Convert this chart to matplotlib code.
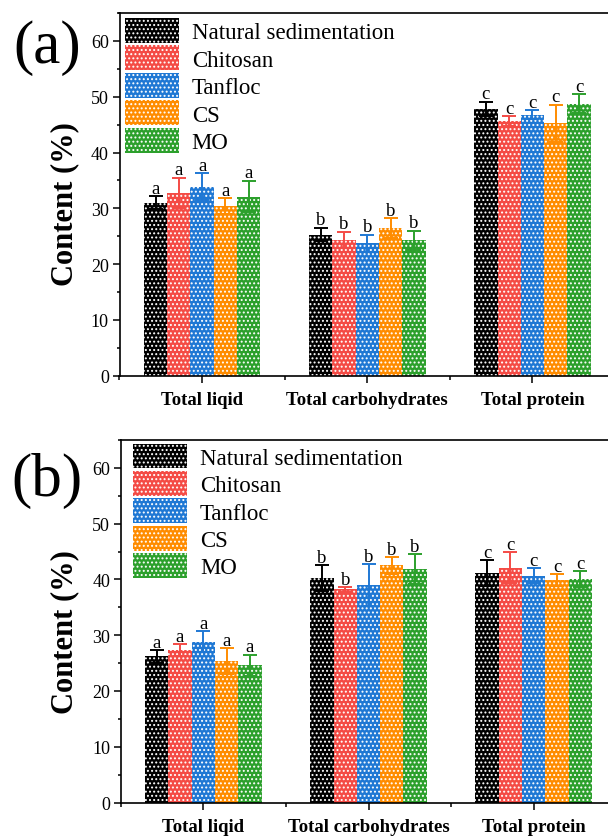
import numpy as np
import matplotlib
matplotlib.use("Agg")
import matplotlib.pyplot as plt
from matplotlib.ticker import MultipleLocator, FixedLocator

plt.rcParams['font.family'] = ['Liberation Serif', 'DejaVu Serif']
plt.rcParams['hatch.linewidth'] = 0.9

# data
categories = ['Total liqid', 'Total carbohydrates', 'Total protein']
series = ['Natural sedimentation', 'Chitosan', 'Tanfloc', 'CS', 'MO']
colors = ['#000000', '#F44B45', '#1F78D4', '#FF8C00', '#2CA02C']
letters = ['a', 'b', 'c']

# panel (a): rows = series, cols = categories
vals_a = [[31.0, 25.3, 47.8],
          [32.8, 24.3, 45.6],
          [33.9, 23.7, 46.8],
          [30.4, 26.4, 45.2],
          [32.1, 24.3, 48.7]]
errs_a = [[1.2, 1.2, 1.3],
          [2.7, 1.5, 0.9],
          [2.4, 1.6, 0.8],
          [1.4, 1.8, 3.4],
          [2.8, 1.7, 1.7]]

# panel (b)
vals_b = [[26.2, 40.2, 41.1],
          [27.3, 38.2, 42.1],
          [28.8, 39.0, 40.7],
          [25.4, 42.5, 39.9],
          [24.6, 41.8, 40.1]]
errs_b = [[1.1, 2.3, 2.3],
          [1.1, 0.4, 2.8],
          [1.9, 3.7, 1.3],
          [2.3, 1.5, 1.0],
          [1.9, 2.7, 1.4]]

W, H = 608, 837
fig = plt.figure(figsize=(W / 100, H / 100), dpi=100)

bar_w = 0.141
x = np.arange(len(categories))


def draw_panel(ax, vals, errs):
    for i, name in enumerate(series):
        xs = x + (i - 2) * bar_w
        ax.bar(xs, vals[i], width=bar_w, color=colors[i], edgecolor='white',
               linewidth=0, hatch='....', label=name, zorder=2)
        ax.errorbar(xs, vals[i], yerr=errs[i], fmt='none', ecolor=colors[i],
                    elinewidth=1.4, capsize=5, capthick=1.4, zorder=3)
        for j in range(len(categories)):
            ax.annotate(letters[j], (xs[j], vals[i][j] + errs[i][j]),
                        xytext=(0, 2.5), textcoords='offset points',
                        ha='center', va='baseline', fontsize=13.5)
    ax.set_xlim(-0.5, 2.5)
    ax.set_ylim(0, 65)
    ax.set_xticks(x)
    ax.set_xticklabels(categories, fontsize=13.5, fontweight='bold')
    ax.xaxis.set_minor_locator(FixedLocator([-0.5, 0.5, 1.5, 2.5]))
    ax.yaxis.set_major_locator(MultipleLocator(10))
    ax.yaxis.set_minor_locator(MultipleLocator(5))
    ax.tick_params(axis='y', which='major', direction='out', length=4.7,
                   width=1.1, labelsize=13, pad=3)
    ax.tick_params(axis='y', which='minor', direction='out', length=2.5, width=1.1)
    ax.tick_params(axis='x', which='major', direction='out', length=5,
                   width=1.1, pad=6)
    ax.tick_params(axis='x', which='minor', direction='out', length=3, width=1.1)
    for s in ax.spines.values():
        s.set_linewidth(1.2)


def add_legend(ax, dx, dy, h):
    ax.legend(loc='upper left', bbox_to_anchor=(dx / span, 1 - dy / h),
              frameon=False, fontsize=16.5, handlelength=2.35, handleheight=1.3,
              labelspacing=0.1, handletextpad=0.56, borderpad=0,
              borderaxespad=0)


span = 3 * 165.2

# panel (a)
ax1 = fig.add_axes([119.5 / W, 1 - 376.7 / H, span / W, 362.7 / H])
draw_panel(ax1, vals_a, errs_a)
add_legend(ax1, 5.5, 5, 362.7)
fig.text(47 / W, 1 - 48 / H, '(a)', fontsize=44, ha='center', va='center')
fig.text(65 / W, 1 - 204 / H, 'Content (%)', fontsize=22, fontweight='bold',
         rotation=90, ha='center', va='center')

# panel (b)
ax2 = fig.add_axes([120.7 / W, 1 - 803.5 / H, span / W, 362.5 / H])
draw_panel(ax2, vals_b, errs_b)
add_legend(ax2, 12.5, 3.5, 362.5)
fig.text(47 / W, 1 - 481 / H, '(b)', fontsize=44, ha='center', va='center')
fig.text(65 / W, 1 - 632 / H, 'Content (%)', fontsize=22, fontweight='bold',
         rotation=90, ha='center', va='center')

plt.savefig('out.png', dpi=100)
